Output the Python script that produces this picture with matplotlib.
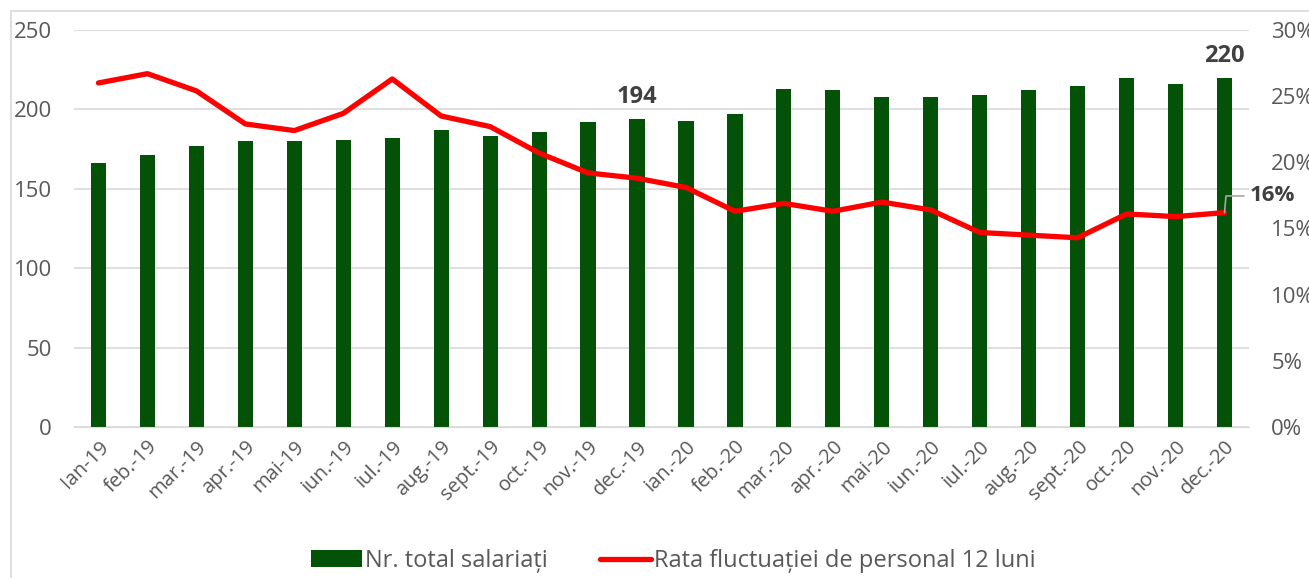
import matplotlib.pyplot as plt
from matplotlib.patches import Rectangle
from matplotlib.ticker import FuncFormatter

months = ["Ian-19", "feb.-19", "mar.-19", "apr.-19", "mai-19", "iun.-19", "iul.-19", "aug.-19",
          "sept.-19", "oct.-19", "nov.-19", "dec.-19", "ian.-20", "feb.-20", "mar.-20", "apr.-20",
          "mai-20", "iun.-20", "iul.-20", "aug.-20", "sept.-20", "oct.-20", "nov.-20", "dec.-20"]
employees = [166, 171, 177, 180, 180, 181, 182, 187, 183, 186, 192, 194,
             193, 197, 213, 212, 208, 208, 209, 212, 215, 220, 216, 220]
turnover = [26.0, 26.7, 25.4, 22.9, 22.4, 23.7, 26.3, 23.5, 22.7, 20.7, 19.2, 18.8,
            18.1, 16.3, 16.9, 16.3, 17.0, 16.4, 14.7, 14.5, 14.3, 16.1, 15.9, 16.2]

green = "#035207"
red = "#ff0000"
grey = "#595959"
plt.rcParams["font.family"] = ["Open Sans", "DejaVu Sans"]

fig = plt.figure(figsize=(13.09, 5.78), dpi=100)
fig.patches.append(Rectangle((11 / 1309, -0.1), 1.2, (578 - 11) / 578 + 0.1, transform=fig.transFigure,
                             fill=False, edgecolor="#d9d9d9", linewidth=1.2))
ax = fig.add_axes([74 / 1309, 1 - 427 / 578, 1175 / 1309, 397 / 578])
ax2 = ax.twinx()

x = list(range(len(months)))
ax.bar(x, employees, width=0.31, color=green, label="Nr. total salariați", zorder=2)
ax2.plot(x, turnover, color=red, linewidth=3.8, solid_capstyle="round",
         label="Rata fluctuației de personal 12 luni", zorder=3)

ax.set_xlim(-0.5, len(months) - 0.5)
ax.set_ylim(0, 250)
ax.set_yticks(range(0, 251, 50))
ax2.set_ylim(0, 30)
ax2.set_yticks(range(0, 31, 5))
ax2.yaxis.set_major_formatter(FuncFormatter(lambda v, p: f"{v:.0f}%"))
ax.grid(axis="y", color="#d9d9d9", linewidth=1.2, zorder=0)
ax.set_axisbelow(True)
for a in (ax, ax2):
    for s in a.spines.values():
        s.set_visible(False)
ax.spines["bottom"].set_visible(True)
ax.spines["bottom"].set_color("#d9d9d9")
ax.tick_params(axis="y", length=0, pad=16, labelsize=16, labelcolor=grey)
ax2.tick_params(axis="y", length=0, pad=16, labelsize=16, labelcolor=grey)
ax.tick_params(axis="x", length=0, pad=7, labelsize=14.5, labelcolor=grey)
ax.set_xticks(x)
ax.set_xticklabels(months, rotation=45, ha="right", rotation_mode="anchor")

# data labels
for i in (11, 23):
    ax.annotate(str(employees[i]), (x[i], employees[i]), xytext=(0, 7), textcoords="offset points",
                ha="center", va="bottom", fontsize=17, fontweight="bold", color="#404040")
ax2.annotate(f"{turnover[-1]:.0f}%", (x[-1], turnover[-1]), xytext=(18, 12), textcoords="offset points",
             ha="left", va="center", fontsize=16, fontweight="bold", color="#404040",
             arrowprops=dict(arrowstyle="-", color="#a6a6a6", lw=1.2, shrinkA=2, shrinkB=0,
                             connectionstyle="angle,angleA=0,angleB=85,rad=0"))

h1, l1 = ax.get_legend_handles_labels()
h2, l2 = ax2.get_legend_handles_labels()
fig.legend(h1 + h2, l1 + l2, loc="center", bbox_to_anchor=(673 / 1309, 1 - 561 / 578), ncol=2,
           frameon=False, fontsize=17, labelcolor=grey, handlelength=2.2, handletextpad=0.1,
           columnspacing=2.2)

fig.savefig("out.png", dpi=100)
